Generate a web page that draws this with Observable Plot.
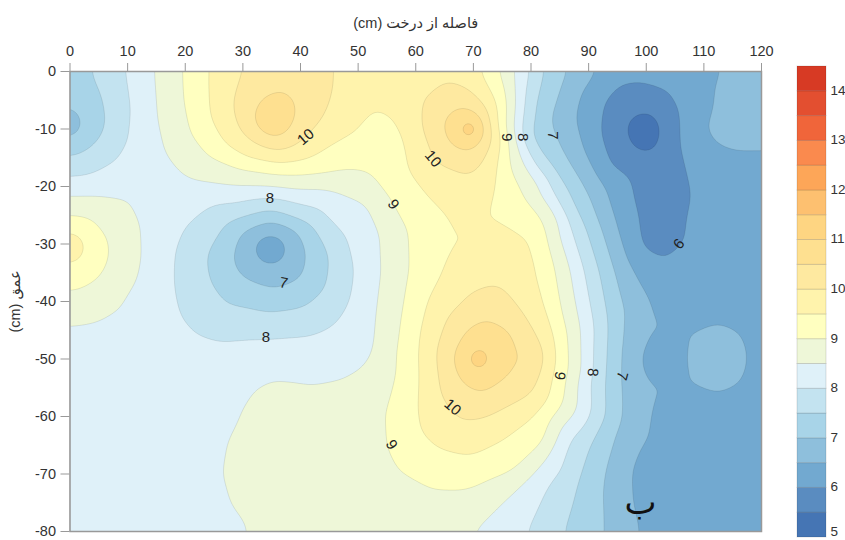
<!DOCTYPE html>
<html>
<head>
<meta charset="utf-8">
<script src="https://cdn.jsdelivr.net/npm/d3@7"></script>
<script src="https://cdn.jsdelivr.net/npm/@observablehq/plot@0.6"></script>
<style>
html,body{margin:0;padding:0;background:#fff;width:845px;height:540px;overflow:hidden}
#wrap{position:relative;width:845px;height:540px}
#wrap>svg{position:absolute;left:0;top:0;background:transparent}
</style>
</head>
<body>
<div id="wrap"></div>
<script>
const thresholds = [5,5.5,6,6.5,7,7.5,8,8.5,9,9.5,10,10.5,11,11.5,12,12.5,13,13.5,14];
const bandColors = ["#4575b4","#5a8cc0","#72a9d0","#8ebfdc","#a8d4e8","#c3e3f0","#dff1f9","#eef7d8","#ffffc0","#fff3ac","#fee9a0","#fee090","#fed582","#fdc070","#fda658","#fa8a4e","#f0653a","#e34f30","#d73a24"];
const legendTicks = [6,7,8,9,10,11,12,13,14];
const xTicks = [0,10,20,30,40,50,60,70,80,90,100,110,120];
const yTicks = [0,-10,-20,-30,-40,-50,-60,-70,-80];

// Points: [distance, depth]
const level5_5 = [[99.6,7],[101.8,8],[102.5,10.3],[102,12.5],[100.2,13.9],[97.8,13],[96.6,10.3],[97.3,8]];
const level6 = [[98.5,1.6],[103.7,3.3],[105.7,7.4],[107.2,19],[107.7,23],[106.7,28.2],[104.9,30.6],[102.2,32.6],[99,30.8],[98.4,25.3],[93.8,16.6],[92,10.8],[92.7,5],[95,2.1]];
const level6_5a = [[91.5,0],[88.6,3.9],[87.7,8],[89.2,13.7],[92.7,20],[94.4,25.3],[97.6,34.6],[100.2,39],[101,42],[100.2,45.5],[98.5,49.7],[99.6,53.7],[101,57.7],[100.2,62.4],[97.9,65.9],[96.7,69.4],[97,74],[98.4,80]];
const level6_5b = [[113.3,0],[111.8,5],[109.2,9.4],[111.2,12],[115.8,13.7],[120,13.4]];
const level6_5c = [[112,44],[116.1,45.7],[117.8,49.8],[116.1,53.9],[112,55.6],[107.9,53.9],[106.2,49.8],[107.9,45.7]];
const level7 = [[86.3,0],[84.8,4],[83.2,8.5],[85.7,14.3],[89.2,20],[92.1,27],[94.4,34.6],[96.1,41.6],[95.7,48],[95.5,54.9],[95.5,60.7],[93,69.4],[92.8,80]];
const level7_5 = [[82,0],[80.8,5],[79.5,10.8],[81,13.5],[84.5,17.8],[88.3,25],[91.8,34.6],[93.3,43.3],[93,52],[90.4,64.7],[88,72],[85.7,80]];
const level8 = [[79.9,0],[78.9,5],[78.2,9.7],[79.2,13],[81,17],[83.5,20.5],[86.5,26],[89.2,34.6],[91,44.5],[90.3,53.7],[86.9,63.6],[83.5,71],[79.4,80]];
const level8_5 = [[77,0],[77,9.7],[78,14],[79.7,17.2],[81.7,19.5],[85,26],[86.9,34.6],[88.6,44.5],[88,54.9],[82.3,67.6],[76,74],[70,80]];
const level9 = [[74.4,0],[75.9,6.8],[75.6,9.7],[76.2,12.6],[76.5,17.2],[79,21.7],[81.7,24.8],[83,30],[84.3,34.6],[85.7,43.3],[86.6,52],[85.7,57.8],[82.3,64.8],[77.2,69.4],[71.3,71.7],[67.2,72.9],[64.3,72.6],[60.8,71],[57.3,68.8],[55.4,64.7],[55,59],[56.8,52],[57.5,43.3],[59,34],[58.5,27.6],[55.6,22.4],[53.3,19.5],[50.4,17.2],[45.8,17.5],[37,18],[29.6,17],[24.4,14.9],[21,10.8],[19.8,5],[19.6,0]];
const level9_5 = [[71.3,0],[74.2,5.6],[74.6,10.8],[74.4,15.5],[73.9,19],[73.3,23],[73.9,25.6],[77.6,27.7],[80.5,29.4],[80.8,32.3],[81.4,36.9],[82.3,40.4],[84,46],[84,52],[81,59.5],[75.3,64],[69.5,66.9],[63.8,65.5],[60.8,62.5],[60.5,57.8],[60.6,50],[60.9,44.5],[62,39.8],[64.9,34.6],[68.4,31.4],[70.8,30.3],[71,28.8],[69.5,27.4],[64.9,24.5],[61.4,20.7],[58.8,17.2],[58,12],[57.7,10.3],[57,7.9],[53.9,6.2],[52.2,6.5],[48.7,10.8],[43,14.3],[40,15.6],[36,16],[30.5,15],[27.3,13],[24.4,8],[24,0]];
const level10a = [[29.9,0],[28.2,5.6],[29.6,10.3],[32.5,12.6],[36,13.9],[39.5,12.6],[43,9.1],[45.2,4.5],[45.7,0]];
const level10b = [[61.1,5.6],[65.5,2],[69.5,3.3],[72.7,7.9],[73.6,11.4],[71.7,15.5],[69.5,18],[63.2,15.5],[61.1,9.7]];
const level10c = [[74,36.9],[77.9,41],[81.1,46.2],[82.3,49],[80.5,56],[72.4,60],[67.8,60.7],[64.3,56],[63.5,49],[65.5,42.7],[69.5,38.7]];
const level10_5a = [[31.9,8],[33.5,5],[36,3.8],[38.3,5],[39,6.8],[38.7,9],[37.7,10.8],[35.4,11.8],[32.8,10.3]];
const level10_5b = [[64.6,9.7],[66,7.2],[68.4,6.2],[70.8,7.3],[71.8,9.7],[71,12.3],[69.5,14],[66,12.6]];
const level10_5c = [[72.4,43],[76.5,45],[80.2,50],[76,53],[71.9,56],[68,54],[66.4,49.7],[69,44.8]];
const level11b = [[69.5,8.7],[71,10],[69.5,11.5],[68,10]];
const level11c = [[70.8,48.4],[72.4,50],[70.8,51.6],[69.2,50]];
const level8Left = [[9.5,0],[10.6,7.4],[10.2,10.8],[7.6,15.5],[3.6,17.8],[0,18.2]];
const level7_5Left = [[3.9,0],[5.5,4],[6.2,8.5],[5.5,11],[3,13.5],[0,14.8]];
const level7Left = [[0,6.5],[1.5,7.3],[2,9.5],[1.2,11],[0,11.7]];
const level8_5Main = [[14.5,0],[15,6],[16.3,13],[20.3,18.4],[25.6,19.5],[35.4,20],[45.8,20.7],[51.6,23],[54,28],[54,34.6],[53,43.3],[52.7,49],[51.6,50.8],[47,53.5],[42.3,54.4],[37.7,53.5],[35,52.9],[33,54.3],[29.6,59],[26.7,64.7],[25.8,70],[27.3,75],[31,80]];
const level8_5Left = [[0,21.6],[5.3,21.6],[10,22.4],[12.2,27],[12.5,32.3],[11.7,35.8],[8.8,40.4],[4.1,43.3],[0,43.9]];
const level9Left = [[0,25],[3,25.3],[6.5,29.4],[6.7,32.3],[5.3,35.5],[2.4,37.5],[0,38.2]];
const level9_5Left = [[0,28.3],[1.5,28.5],[2.3,30.6],[1.3,32.6],[0,32.9]];
const level8Blob = [[34.2,22],[25.5,23],[20.3,27],[18.3,31.7],[18.1,36.4],[19.2,42],[22.6,45.9],[26.1,47],[33.6,46.5],[41,45.9],[45.8,43.9],[48.7,39.2],[49.3,34.6],[48,29],[43,23.6]];
const level7_5Blob = [[23.8,32],[27.3,26.2],[34.8,24],[41.8,26.5],[45,32.3],[44.4,37.5],[40.6,41],[34.2,41.9],[27.3,40.4],[24.4,36.3]];
const level7Blob = [[28.3,32],[29.6,28],[34.8,26],[40,28.8],[41,32],[40.3,35.8],[35.4,37.8],[31.3,36.3],[29,34.6]];
const level6_5Blob = [[34.8,27.8],[37,28.7],[37.8,30.8],[37,32.9],[34.8,33.8],[32.6,32.9],[31.8,30.8],[32.6,28.7]];

// Values read inside bands and at centres: [distance, depth, value]
const interior = [
 [99.5,10.5,5.05],[103,22,5.7],[102.5,28,5.75],[100,17,5.7],[104,15,5.7],[97,6,5.75],
 [100,0,6.2],[107,0,6.35],[95,0,6.2],[108,12,6.3],[114,20,6.3],[110,25,6.25],[120,25,6.35],[115,35,6.25],[105,40,6.2],[105,50,6.2],[105,60,6.25],[120,40,6.3],[120,60,6.3],[118,65,6.3],[110,70,6.25],[105,75,6.25],[120,80,6.25],[105,80,6.25],[112,80,6.25],
 [120,0,6.8],[117,6,6.85],[112,49.8,6.85],
 [0,0,7.3],[0,9,6.6],[34.8,30.8,6.1],
 [13,0,8.3],[12,10,8.25],[13,18,8.3],[0,20,8.2],[5,20,8.25],[20,21,8.3],[30,21,8.3],[40,21.5,8.3],[15,25,8.3],[15,32,8.25],[15,40,8.2],[51,30,8.3],[50.5,45,8.25],
 [0,50,8.3],[0,60,8.25],[0,70,8.2],[0,80,8.2],[10,80,8.2],[20,80,8.3],[10,60,8.2],[20,60,8.3],[15,50,8.25],[25,52,8.3],[35,49,8.2],[45,49,8.2],[10,70,8.2],[20,70,8.3],
 [50,80,8.75],[40,80,8.7],[60,80,8.8],[45,70,8.7],[40,60,8.7],[35,70,8.6],[50,60,8.8],[60,75,8.9],[35,58,8.6],[45,56,8.6],
 [58,60,9.25],[58.5,50,9.25],[61,35,9.25],[60,25,9.25],[55,14,9.2],[64,69,9.25],
 [50,0,9.8],[55,0,9.7],[62,0,9.85],[66,0,9.9],[47,8,9.8],[58,3,9.8],[37,0,10.35],[75,62,9.7],
 [73,28,9.62],[75.5,31,9.68],[72.5,33,9.72],[77,35,9.8],[67,34,9.7],[69,22,9.75],[65,21,9.7],[71.5,20,9.72],
 [33.8,6.5,10.85],[37.2,6,10.85],[36.5,9.5,10.85],[34,9.5,10.85],[35.5,7.8,10.9],[69.5,10,13],[70.8,50,12.2],[0,30.6,10.2]
];

const contourLines = [
 [5.5,level5_5],[6,level6],[6.5,level6_5a],[6.5,level6_5b],[6.5,level6_5c],[6.5,level6_5Blob],
 [7,level7],[7,level7Left],[7,level7Blob],[7.5,level7_5],[7.5,level7_5Left],[7.5,level7_5Blob],
 [8,level8],[8,level8Left],[8,level8Blob],[8.5,level8_5],[8.5,level8_5Main],[8.5,level8_5Left],
 [9,level9],[9,level9Left],[9.5,level9_5],[9.5,level9_5Left],
 [10,level10a],[10,level10b],[10,level10c],[10.5,level10_5a],[10.5,level10_5b],[10.5,level10_5c],
 [11,level11b],[11,level11c]
];
const samples = [];
for (const [v, line] of contourLines) for (const [x, d] of line) samples.push({x, y: -d, v});
for (const [x, d, v] of interior) samples.push({x, y: -d, v});

// Contour labels: text, distance, depth, rotation
const labelText = ["10","8","9","7","8","9","10","9","8","7","6","10","9","8","7"];
const labelX = [40.9,34.7,56.1,37.1,34,55.8,63,75.8,78.6,83.8,105.7,66.4,85,90.7,95.8];
const labelDepth = [11.4,22,23.1,36.8,46.2,64.9,15.2,11.4,11.4,11.1,30,58.4,52.9,52.3,52.9];
const labelAngle = [-40,0,55,10,0,60,50,90,90,90,-50,40,100,95,105];
const labels = labelText.map((text,i)=>({text,x:labelX[i],y:-labelDepth[i],rotate:labelAngle[i]}));

const font = "'Liberation Sans', Arial, 'DejaVu Sans', sans-serif";
const colorScale = {type:"threshold", domain: thresholds.slice(1), range: bandColors};

const main = Plot.plot({
  width: 845, height: 540,
  marginLeft: 69.5, marginRight: 84, marginTop: 71, marginBottom: 9,
  style: {fontFamily: font, fontSize: "14px", background: "transparent", color: "#333"},
  x: {domain: [0,120]},
  y: {domain: [-80,0]},
  color: colorScale,
  marks: [
    Plot.contour(samples, {x:"x", y:"y", value:"v", fill:"value", thresholds, interpolate:"barycentric", pixelSize:1, blur:7, stroke:"#000", strokeOpacity:0.09, strokeWidth:1, clip:true}),
    Plot.frame({stroke:"#999", strokeWidth:1.5}),
    Plot.axisX({anchor:"top", ticks:xTicks, tickSize:9, tickPadding:7, fontSize:14.5, stroke:"#999", fill:"#333", label:"(cm) فاصله از درخت", labelAnchor:"center", labelArrow:"none", labelOffset:54, tickFormat:d=>String(d)}),
    Plot.axisY({anchor:"left", ticks:yTicks, tickSize:9, tickPadding:5, fontSize:14.5, stroke:"#999", fill:"#333", label:"(cm) عمق", labelAnchor:"center", labelArrow:"none", labelOffset:60, tickFormat:d=>String(d)}),
    Plot.text(labels, {x:"x", y:"y", text:"text", rotate:"rotate", fontSize:15, fill:"#222"}),
    Plot.text(["ب"], {x:[99], y:[-75], text:d=>d, fontSize:34, fill:"#111", fontFamily:"'DejaVu Sans', sans-serif"})
  ]
});

const bands = thresholds.map((lo,i)=>({lo, hi: i+1<thresholds.length ? thresholds[i+1] : 14.5}));
const legend = Plot.plot({
  width: 845, height: 540,
  marginLeft: 797, marginRight: 19, marginTop: 66, marginBottom: 3,
  style: {fontFamily: font, fontSize: "13.5px", background: "transparent", color: "#333"},
  x: {domain:[0,1], axis:null},
  y: {domain:[5,14.5]},
  color: colorScale,
  marks: [
    Plot.rect(bands, {x1:0, x2:1, y1:"lo", y2:"hi", fill:"lo", stroke:"#000", strokeOpacity:0.12}),
    Plot.axisY({anchor:"right", ticks:legendTicks, tickSize:0, tickPadding:4, fontSize:13.5, dy:-1, label:null, fill:"#333", tickFormat:d=>String(d)}),
    Plot.text([5], {x:1, y:d=>d, text:d=>String(d), dx:4, dy:-6, textAnchor:"start", fontSize:13.5, fill:"#333"})
  ]
});
const wrap = document.getElementById("wrap");
wrap.append(main, legend);
</script>
</body>
</html>
